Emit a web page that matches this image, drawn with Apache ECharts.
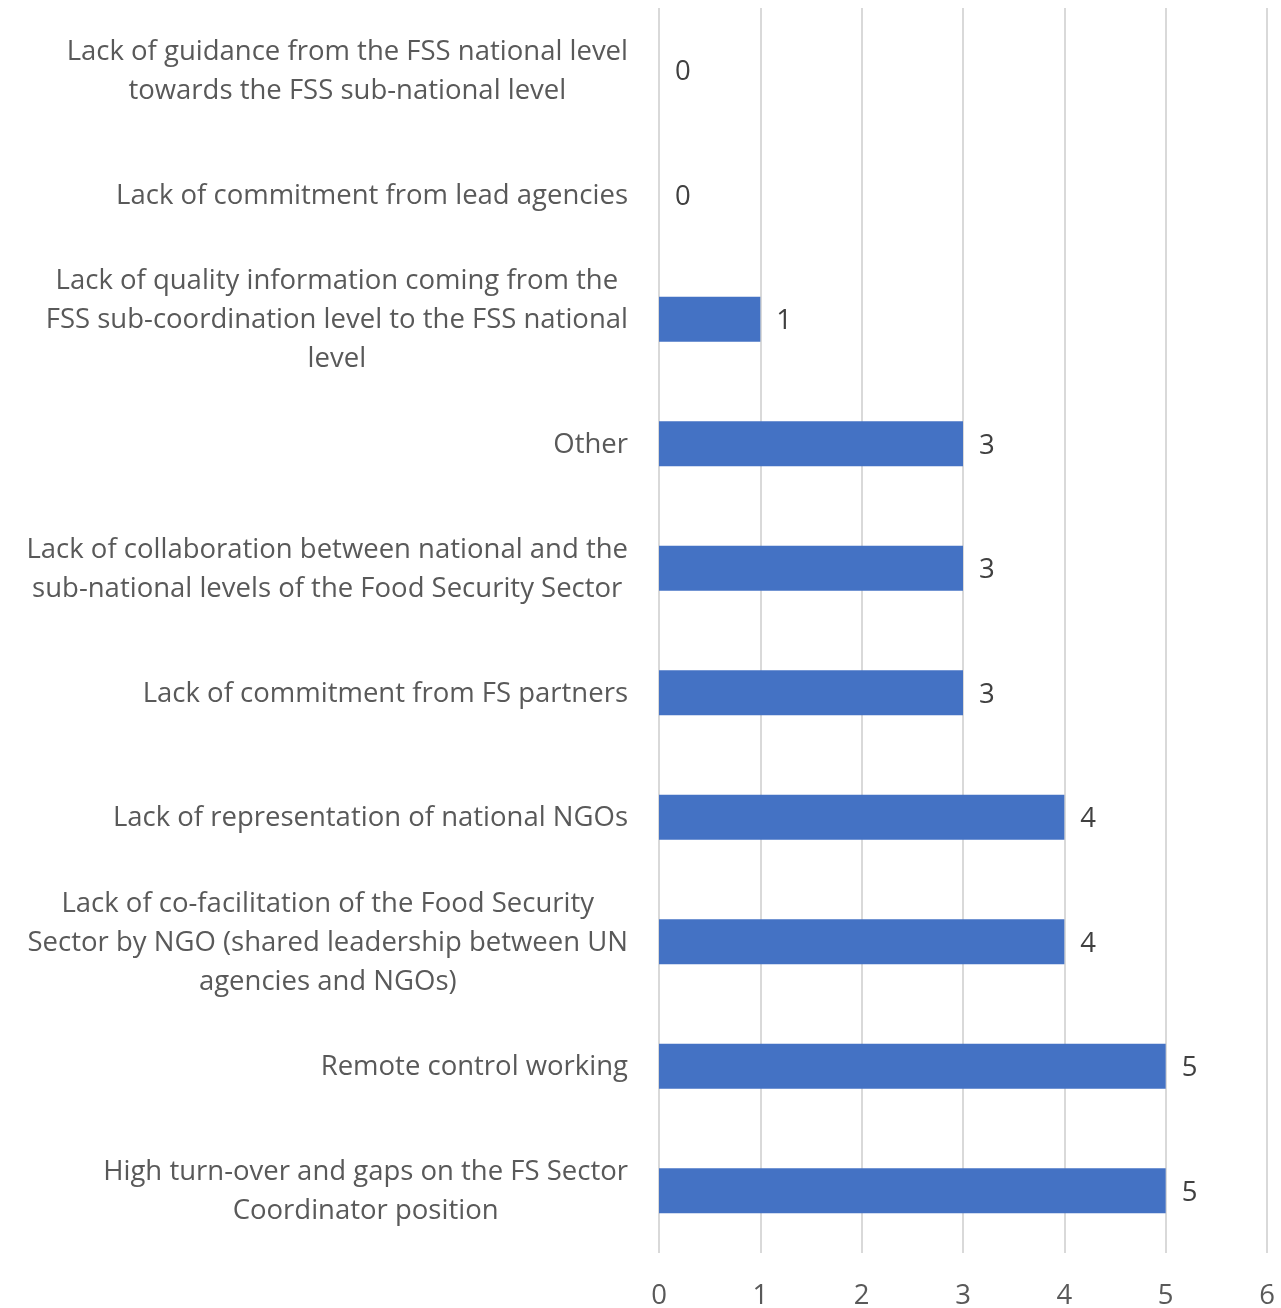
<!DOCTYPE html>
<html>
<head>
<meta charset="utf-8">
<script src="https://cdn.jsdelivr.net/npm/echarts@6/dist/echarts.min.js"></script>
<style>
  html, body { margin: 0; padding: 0; background: #fff; }
  #main { width: 1281px; height: 1308px; }
</style>
</head>
<body>
<div id="main"></div>
<script>
// categories, top to bottom
var categories = [
    'Lack of guidance from the FSS national level\ntowards the FSS sub-national level',
    'Lack of commitment from lead agencies',
    'Lack of quality information coming from the\nFSS sub-coordination level to the FSS national\nlevel',
    'Other',
    'Lack of collaboration between national and the\nsub-national levels of the Food Security Sector',
    'Lack of commitment from FS partners',
    'Lack of representation of national NGOs',
    'Lack of co-facilitation of the Food Security\nSector by NGO (shared leadership between UN\nagencies and NGOs)',
    'Remote control working',
    'High turn-over and gaps on the FS Sector\nCoordinator position'
];
var counts = [0, 0, 1, 3, 3, 3, 4, 4, 5, 5];
var xTicks = [0, 1, 2, 3, 4, 5, 6];

var fontFamily = '"Open Sans", "Noto Sans", sans-serif';
var fs = 27.5;

var myChart = echarts.init(document.getElementById('main'));
myChart.setOption({
    animation: false,
    grid: { left: 659, right: 14, top: 8, bottom: 55, containLabel: false, outerBoundsMode: 'none' },
    xAxis: {
        type: 'value',
        min: xTicks[0],
        max: xTicks[xTicks.length - 1],
        interval: 1,
        axisLine: { show: false },
        axisTick: { show: false },
        splitLine: { show: true, lineStyle: { color: '#d9d9d9', width: 2 } },
        axisLabel: {
            margin: 29,
            color: '#595959',
            fontSize: fs,
            fontFamily: fontFamily,
            formatter: function (v) { return String(v); }
        }
    },
    yAxis: {
        type: 'category',
        inverse: true,
        data: categories,
        axisLine: { show: false },
        axisTick: { show: false },
        axisLabel: {
            margin: 31,
            color: '#595959',
            fontSize: fs,
            lineHeight: 39,
            fontFamily: fontFamily,
            formatter: function (v) {
                return v.split('\n').map(function (l) { return '{c|' + l + '}'; }).join('\n');
            },
            rich: {
                c: { align: 'center', color: '#595959', fontSize: fs, lineHeight: 39, fontFamily: fontFamily, padding: [2, 0, 0, 0] }
            }
        }
    },
    series: [{
        type: 'bar',
        data: counts,
        barWidth: 45,
        itemStyle: { color: '#4472c4' },
        label: {
            show: true,
            position: 'right',
            distance: 16,
            offset: [0, 2],
            color: '#404040',
            fontSize: fs,
            fontFamily: fontFamily
        }
    }]
});
</script>
</body>
</html>
